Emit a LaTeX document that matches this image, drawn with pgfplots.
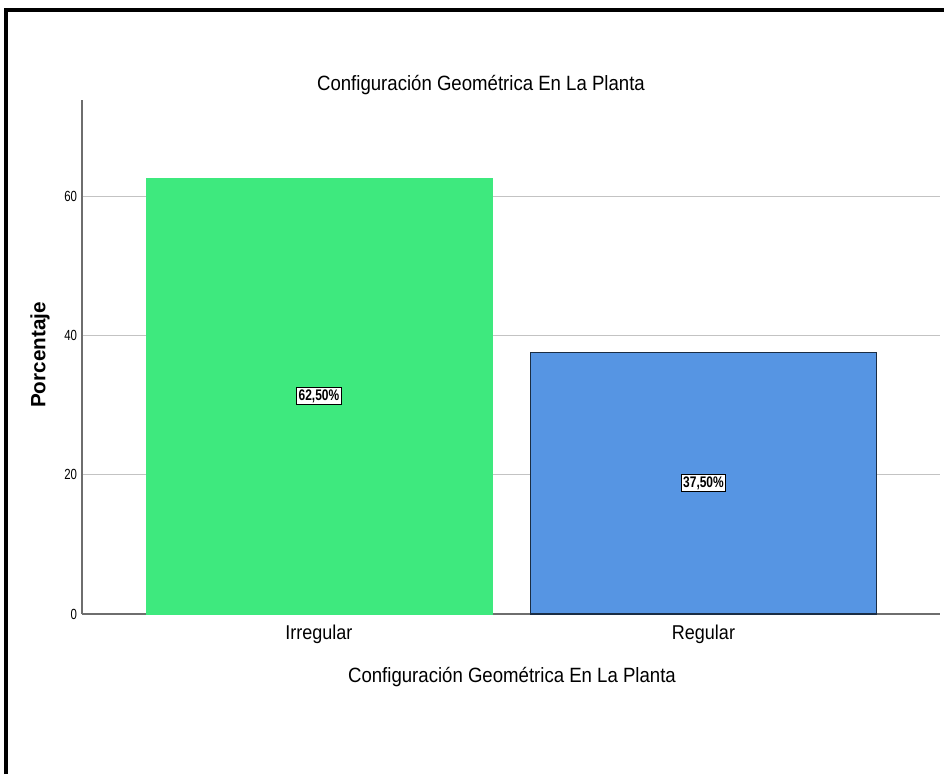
\documentclass[border=0pt]{standalone}
\usepackage{fontspec}
\setmainfont{Liberation Sans}
\newfontfamily\narrowfont[FakeStretch=0.78]{Liberation Sans}
\newfontfamily\semifont[FakeStretch=0.9]{Liberation Sans}
\usepackage{pgfplots}
\pgfplotsset{compat=1.18}
\definecolor{bargreen}{RGB}{62,233,126}
\definecolor{barblue}{RGB}{86,149,227}
\definecolor{gridgray}{RGB}{195,195,195}
\definecolor{axisgray}{RGB}{110,110,110}
\begin{document}
\begin{tikzpicture}
\useasboundingbox (0,0) rectangle (708pt,580.5pt);
% frame (top and left, as cropped in the reference)
\draw[black, line width=3pt] (4.5pt,0) -- (4.5pt,573pt) -- (708pt,573pt);
\begin{axis}[
  at={(61.5pt,120pt)}, anchor=south west,
  scale only axis, width=643.5pt, height=385.5pt,
  xmin=-0.616, xmax=1.615, ymin=0, ymax=73.8,
  axis x line*=bottom, axis y line*=left,
  axis line style={axisgray, line width=0.9pt},
  every outer x axis line/.append style={-}, every outer y axis line/.append style={-},
  ytick={0,20,40,60}, ymajorgrids, grid style={gridgray, line width=0.8pt},
  major tick length=0pt,
  xtick={0,1}, xticklabels={Irregular,Regular},
  xticklabel style={font=\semifont\fontsize{15}{17}\selectfont, anchor=north, inner sep=0pt, yshift=-8pt},
  yticklabel style={font=\narrowfont\fontsize{11}{13}\selectfont, anchor=east, inner sep=0pt, xshift=-3.5pt},
  /pgf/number format/assume math mode=true,
  ybar, bar width=259.5pt, bar shift=0pt,
  nodes near coords={\pgfmathprintnumber[fixed,fixed zerofill,precision=2,use comma]{\pgfplotspointmeta}\%},
  visualization depends on={y/2 \as \halfy},
  every node near coord/.append style={
     font=\narrowfont\bfseries\fontsize{11.5}{13}\selectfont,
     fill=white, draw=black, line width=0.8pt, inner sep=1.5pt,
     anchor=center, shift={(axis direction cs:0,-\halfy)}},
  clip=false,
]
\addplot[fill=bargreen, draw=bargreen, line width=0.5pt] coordinates {(0,62.5)};
\addplot[fill=barblue, draw=barblue!30!black, line width=0.8pt] coordinates {(1,37.5)};
\end{axis}
\node[font=\semifont\fontsize{15.5}{18}\selectfont] at (360.75pt,516.75pt) {Configuración Geométrica En La Planta};
\node[font=\semifont\fontsize{15.5}{18}\selectfont] at (384pt,72.75pt) {Configuración Geométrica En La Planta};
\node[font=\bfseries\fontsize{15.5}{18}\selectfont, rotate=90] at (30pt,314.25pt) {Porcentaje};
\end{tikzpicture}
\end{document}
